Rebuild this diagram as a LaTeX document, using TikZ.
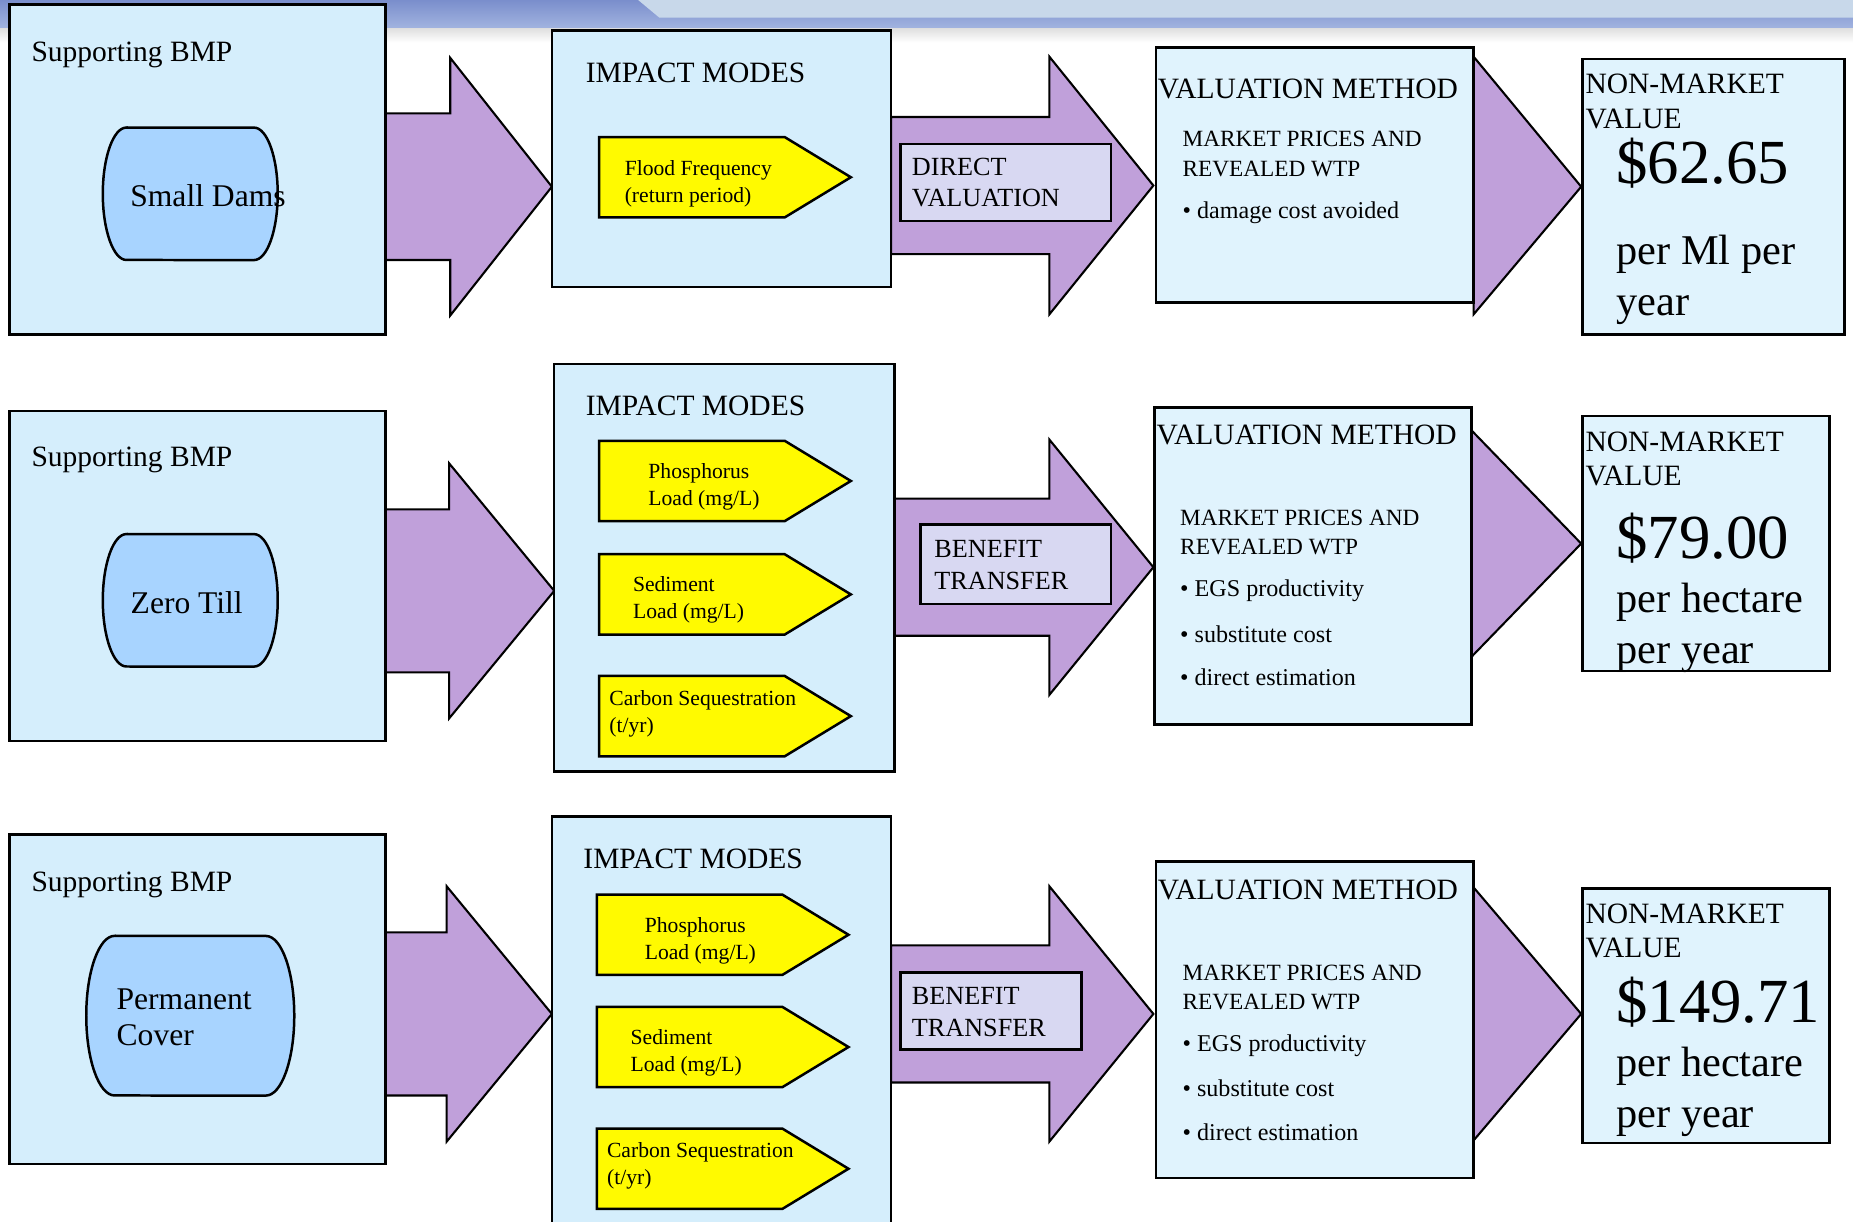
\documentclass[tikz,border=0pt]{standalone}
\usepackage{fontspec}
\setmainfont{Liberation Serif}
\usetikzlibrary{positioning}

\definecolor{panelblue}{RGB}{213,238,252}
\definecolor{valblue}{RGB}{224,243,253}
\definecolor{capblue}{RGB}{168,212,255}
\definecolor{flowpurple}{RGB}{192,160,218}
\definecolor{tagyellow}{RGB}{255,250,0}
\definecolor{lblgrey}{RGB}{216,216,242}
\definecolor{bandtop}{RGB}{122,142,204}
\definecolor{bandbot}{RGB}{162,180,224}
\definecolor{bandlight}{RGB}{200,216,234}

% block arrow: shaft start, head base, tip, centre, shaft half, head half
\newcommand{\bigarrow}[6]{%
  \draw[flow] (#1,#4-#5) -- (#2,#4-#5) -- (#2,#4-#6) -- (#3,#4)
    -- (#2,#4+#6) -- (#2,#4+#5) -- (#1,#4+#5) -- cycle;}
% yellow impact tag
\newcommand{\modetag}[2]{%
  \draw[tag] (#1,#2) -- ++(157,0) -- ++(56,34) -- ++(-56,34) -- ++(-157,0) -- cycle;}

\begin{document}
\begin{tikzpicture}[x=0.01cm,y=-0.01cm]
\tikzset{
  panel/.style={draw, line width=0.6pt, fill=panelblue},
  vpanel/.style={draw, line width=0.6pt, fill=valblue},
  flow/.style={draw, line width=0.5pt, fill=flowpurple, line join=miter},
  tag/.style={draw, line width=0.6pt, fill=tagyellow},
  bmpcap/.style={draw, line width=0.6pt, fill=capblue},
  lbl/.style={draw, line width=0.6pt, fill=lblgrey},
  txt/.style={inner sep=0pt, anchor=west, align=left},
  headtxt/.style={txt, yshift=-0.7pt, font=\fontsize{7.1}{8.3}\selectfont},
  captxt/.style={txt, font=\fontsize{7.6}{8.6}\selectfont},
  tagtxt/.style={txt, yshift=-0.4pt, font=\fontsize{5.2}{6.5}\selectfont},
  lbltxt/.style={txt, font=\fontsize{6.3}{7.6}\selectfont},
  methtxt/.style={txt, font=\fontsize{5.6}{7.1}\selectfont},
  bultxt/.style={txt, font=\fontsize{5.8}{7}\selectfont},
  bigtxt/.style={txt, font=\fontsize{15.1}{16}\selectfont},
  pertxt/.style={txt, yshift=-0.5pt, font=\fontsize{10.2}{12.3}\selectfont}
}
\useasboundingbox (0,0) rectangle (1568,1034);

% header band
\shade[top color=bandtop, bottom color=bandbot] (0,0) rectangle (1568,24);
\fill[bandlight] (540,0) -- (1568,0) -- (1568,15) -- (558,15) -- cycle;
\shade[top color=gray!25, bottom color=white] (0,24) rectangle (1568,36);

% big arrows
\bigarrow{326}{381}{467}{158}{62}{109}
\bigarrow{754}{888}{976}{157}{58}{109}
\draw[flow] (1247,48) -- (1338,158) -- (1247,266) -- cycle;
\bigarrow{326}{380}{469}{500}{69}{108}
\bigarrow{757}{888}{976}{480}{58}{108}
\draw[flow] (1245,364) -- (1338,460) -- (1245,556) -- cycle;
\bigarrow{326}{378}{467}{858}{69}{108}
\bigarrow{754}{888}{976}{858}{58}{108}
\draw[flow] (1247,751) -- (1338,858) -- (1247,965) -- cycle;

% panels
\draw[panel] (8,4) rectangle (326,283);
\draw[panel] (467,26) rectangle (754,243);
\draw[vpanel] (978,40) rectangle (1247,256);
\draw[vpanel] (1339,50) rectangle (1561,283);
\draw[panel] (8,348) rectangle (326,627);
\draw[panel] (469,308) rectangle (757,653);
\draw[vpanel] (977,345) rectangle (1245,613);
\draw[vpanel] (1339,352) rectangle (1548,568);
\draw[panel] (8,706) rectangle (326,985);
\draw[panel] (467,691) rectangle (754,1045);
\draw[vpanel] (978,729) rectangle (1247,997);
\draw[vpanel] (1339,752) rectangle (1548,967);

% BMP shapes
\draw[bmpcap] (107,108) -- (215,108) arc[start angle=90, end angle=-90, x radius=0.2cm, y radius=0.56cm]
  -- (107,220) arc[start angle=270, end angle=90, x radius=0.2cm, y radius=0.56cm] -- cycle;
\draw[bmpcap] (107,452) -- (215,452) arc[start angle=90, end angle=-90, x radius=0.2cm, y radius=0.56cm]
  -- (107,564) arc[start angle=270, end angle=90, x radius=0.2cm, y radius=0.56cm] -- cycle;
\draw[bmpcap] (97,792) -- (225,792) arc[start angle=90, end angle=-90, x radius=0.24cm, y radius=0.675cm]
  -- (97,927) arc[start angle=270, end angle=90, x radius=0.24cm, y radius=0.675cm] -- cycle;

% impact tags
\modetag{507}{116}
\modetag{507}{373}
\modetag{507}{469}
\modetag{507}{572}
\modetag{505}{757}
\modetag{505}{852}
\modetag{505}{955}

% method labels
\draw[lbl] (762,122) rectangle (940,187);
\draw[lbl] (779,444) rectangle (940,511);
\draw[lbl] (762,823) rectangle (915,888);

% row 1
\node[headtxt] (bmpA) at (26,44) {Supporting BMP};
\node[captxt, anchor=center] (capA) at (176,166) {Small Dams};
\node[headtxt] (impA) at (495,59) {IMPACT MODES};
\node[tagtxt] (tagA) at (528,154.5) {Flood Frequency\\(return period)};
\node[lbltxt] (lblA) at (771,154.5) {DIRECT\\VALUATION};
\node[headtxt] (valA) at (979,73) {VALUATION METHOD};
\node[methtxt] (mktA) at (1000,130.5) {MARKET PRICES AND\\REVEALED WTP};
\node[bultxt] (bulA) at (1000,180) {\textbullet\ damage cost avoided};
\node[headtxt] (nmvA) at (1341,83.5) {NON-MARKET\\VALUE};
\node[bigtxt] (usdA) at (1367,138) {\$62.65};
\node[pertxt] (perA) at (1367,235) {per Ml per\\year};

% row 2
\node[headtxt] (bmpB) at (26,387) {Supporting BMP};
\node[captxt, anchor=center] (capB) at (158,510) {Zero Till};
\node[headtxt] (impB) at (495,341) {IMPACT MODES};
\node[tagtxt] (tagB1) at (548,410.5) {Phosphorus\\Load (mg/L)};
\node[tagtxt] (tagB2) at (535,506) {Sediment\\Load (mg/L)};
\node[tagtxt] (tagB3) at (515,602.5) {Carbon Sequestration\\(t/yr)};
\node[lbltxt] (lblB) at (790,478) {BENEFIT\\TRANSFER};
\node[headtxt] (valB) at (978,366) {VALUATION METHOD};
\node[methtxt] (mktB) at (998,450.5) {MARKET PRICES AND\\REVEALED WTP};
\node[bultxt] (bulB1) at (998,500) {\textbullet\ EGS productivity};
\node[bultxt] (bulB2) at (998,537) {\textbullet\ substitute cost};
\node[bultxt] (bulB3) at (998,573) {\textbullet\ direct estimation};
\node[headtxt] (nmvB) at (1341,386) {NON-MARKET\\VALUE};
\node[bigtxt] (usdB) at (1367,455) {\$79.00};
\node[pertxt] (perB) at (1367,529.5) {per hectare\\per year};

% row 3
\node[headtxt] (bmpC) at (26,746) {Supporting BMP};
\node[captxt] (capC) at (98,861) {Permanent\\Cover};
\node[headtxt] (impC) at (493,724) {IMPACT MODES};
\node[tagtxt] (tagC1) at (545,794.5) {Phosphorus\\Load (mg/L)};
\node[tagtxt] (tagC2) at (533,889.5) {Sediment\\Load (mg/L)};
\node[tagtxt] (tagC3) at (513,985.5) {Carbon Sequestration\\(t/yr)};
\node[lbltxt] (lblC) at (771,856.5) {BENEFIT\\TRANSFER};
\node[headtxt] (valC) at (979,751) {VALUATION METHOD};
\node[methtxt] (mktC) at (1000,835.5) {MARKET PRICES AND\\REVEALED WTP};
\node[bultxt] (bulC1) at (1000,885) {\textbullet\ EGS productivity};
\node[bultxt] (bulC2) at (1000,921) {\textbullet\ substitute cost};
\node[bultxt] (bulC3) at (1000,958) {\textbullet\ direct estimation};
\node[headtxt] (nmvC) at (1341,785.5) {NON-MARKET\\VALUE};
\node[bigtxt] (usdC) at (1367,848) {\$149.71};
\node[pertxt] (perC) at (1367,922.5) {per hectare\\per year};
\end{tikzpicture}
\end{document}
